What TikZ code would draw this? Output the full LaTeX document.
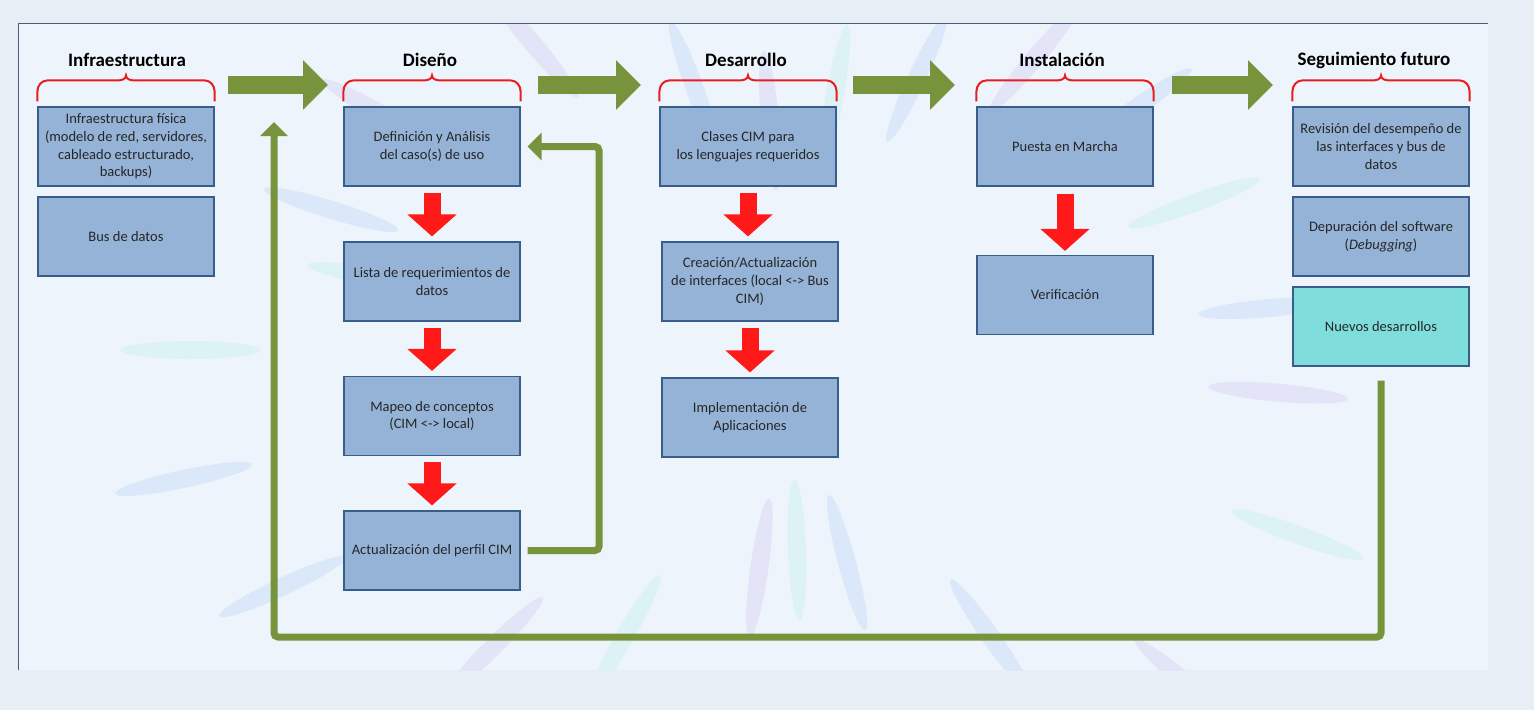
\documentclass[tikz,border=0pt]{standalone}
\usepackage{fontspec}
\setmainfont{Carlito}
\usetikzlibrary{arrows.meta,calc}

\definecolor{boxblue}{RGB}{149,179,215}
\definecolor{boxline}{RGB}{56,93,138}
\definecolor{boxteal}{RGB}{127,222,220}
\definecolor{phasegreen}{RGB}{119,147,60}
\definecolor{arrred}{RGB}{255,25,25}
\definecolor{bracered}{RGB}{232,30,30}
\definecolor{outerbg}{RGB}{231,238,245}
\definecolor{panelbg}{RGB}{238,244,251}
\definecolor{panelline}{RGB}{70,95,120}
\definecolor{txtgray}{RGB}{38,38,38}
\definecolor{petallav}{RGB}{228,228,248}
\definecolor{petalblue}{RGB}{218,232,249}
\definecolor{petalteal}{RGB}{220,242,245}

\tikzset{
  box/.style={draw=boxline, line width=1.2pt, fill=boxblue, minimum width=176pt,
    minimum height=79pt, align=center, inner sep=2pt, text=txtgray,
    font=\fontsize{14.5}{17.7}\selectfont},
  phase/.style={font=\fontsize{19}{22}\selectfont\bfseries},
  phbrace/.style={draw=bracered, line width=2pt},
  redarrow/.style={draw=arrred, line width=17pt, -{Triangle[length=22pt,width=48pt]},
    shorten <=6pt, shorten >=5pt},
  bigarrow/.style={draw=phasegreen, line width=18pt, -{Triangle[length=25pt,width=48pt]}},
  greenloop/.style={draw=phasegreen, line width=7pt, rounded corners=4pt,
    -{Triangle[length=14pt,width=27pt]}},
}

% brace over the boxes of one phase
\newcommand{\phasebrace}[1]{%
  \draw[phbrace] ([yshift=5pt]#1.north west) -- ++(0,-10)
    to[out=90,in=180] ++(10,-11) -- ($(#1.north)+(-8,-26)$)
    to[out=0,in=-90] ($(#1.north)+(0,-31)$)
    to[out=-90,in=180] ($(#1.north)+(8,-26)$) -- ($(#1.north east)+(-10,-26)$)
    to[out=0,in=90] ++(10,11) -- ([yshift=5pt]#1.north east);}

\begin{document}
\begin{tikzpicture}[x=1pt,y=-1pt]
  % background
  \fill[outerbg] (0,0) rectangle (1534,710);
  \useasboundingbox (0,0) rectangle (1534,710);
  \fill[panelbg] (18,23) rectangle (1488,670);
  \begin{scope}
    \clip (18,23) rectangle (1488,670);
    \foreach \ang/\rad/\col in {95/230/petallav, 80/260/petalteal, 65/300/petalblue,
        110/280/petalblue, 130/400/petallav, 150/470/petallav, 163/480/petalblue,
        170/420/petalteal, 180/600/petalteal, 192/620/petalblue, 205/560/petalblue,
        225/420/petallav, 240/330/petalteal, 262/220/petallav, 272/200/petalteal,
        285/220/petalblue, 305/350/petalblue, 320/520/petallav, 340/540/petalteal,
        355/490/petallav, 5/480/petalblue, 20/430/petalteal, 35/420/petalblue,
        50/380/petallav}
      \fill[\col, rotate around={\ang:(790,350)}] (790+\rad,350)
        ellipse [x radius=70pt, y radius=9pt];
  \end{scope}
  \draw[panelline, line width=1pt] (18,670) -- (18,23) -- (1488,23);

  % Infraestructura
  \node[phase] (infraT) at (127,60) {Infraestructura};
  \node[box] (infra) at (126,146.5) {Infraestructura física\\(modelo de red, servidores,\\cableado estructurado,\\backups)};
  \node[box] (bus) at (126,236.5) {Bus de datos};
  \phasebrace{infra}

  % Diseño
  \node[phase] (disT) at (430,60) {Diseño};
  \node[box] (def) at (432,146.5) {Definición y Análisis\\del caso(s) de uso};
  \node[box] (lista) at (432,281.5) {Lista de requerimientos de\\datos};
  \node[box] (mapeo) at (432,416) {Mapeo de conceptos\\(CIM <-> local)};
  \node[box] (act) at (432,550.5) {Actualización del perfil CIM};
  \phasebrace{def}

  % Desarrollo
  \node[phase] (desT) at (746,60) {Desarrollo};
  \node[box] (clases) at (748,146.5) {Clases CIM para\\los lenguajes requeridos};
  \node[box] (creacion) at (750,281.5) {Creación/Actualización\\de interfaces (local <-> Bus\\CIM)};
  \node[box] (impl) at (750,417.5) {Implementación de\\Aplicaciones};
  \phasebrace{clases}

  % Instalación
  \node[phase] (instT) at (1062,60) {Instalación};
  \node[box] (puesta) at (1065,146.5) {Puesta en Marcha};
  \node[box] (verif) at (1065,295) {Verificación};
  \phasebrace{puesta}

  % Seguimiento futuro
  \node[phase] (segT) at (1374,60) {Seguimiento futuro};
  \node[box] (revision) at (1381,146.5) {Revisión del desempeño de\\las interfaces y bus de\\datos};
  \node[box] (depura) at (1381,236.5) {Depuración del software\\(\textit{Debugging})};
  \node[box, fill=boxteal] (nuevos) at (1381,326.5) {Nuevos desarrollos};
  \phasebrace{revision}

  % arrows between phases
  \coordinate (g1a) at (228,85);
  \coordinate (g1b) at (328,85);
  \coordinate (g2a) at (538,85);
  \coordinate (g2b) at (641,85);
  \coordinate (g3a) at (853,85);
  \coordinate (g3b) at (955,85);
  \coordinate (g4a) at (1172,85);
  \coordinate (g4b) at (1273,85);
  \draw[bigarrow] (g1a) -- (g1b);
  \draw[bigarrow] (g2a) -- (g2b);
  \draw[bigarrow] (g3a) -- (g3b);
  \draw[bigarrow] (g4a) -- (g4b);

  % steps inside the phases
  \draw[redarrow] (def.south) -- (lista.north);
  \draw[redarrow] (lista.south) -- (mapeo.north);
  \draw[redarrow] (mapeo.south) -- (act.north);
  \draw[redarrow] (clases.south) -- (clases.south |- creacion.north);
  \draw[redarrow] (creacion.south) -- (impl.north);
  \draw[redarrow, shorten <=7pt, shorten >=4pt] (puesta.south) -- (verif.north);

  % feedback loops
  \coordinate (upA) at (599,350);
  \coordinate (lowA) at (800,637);
  \coordinate (backTip) at (274,122);
  \draw[greenloop, shorten <=7pt, shorten >=7pt] (act.east) -| (upA) |- (def.east);
  \draw[greenloop, shorten <=14pt] (nuevos.south) |- (lowA) -| (backTip);
\end{tikzpicture}
\end{document}
